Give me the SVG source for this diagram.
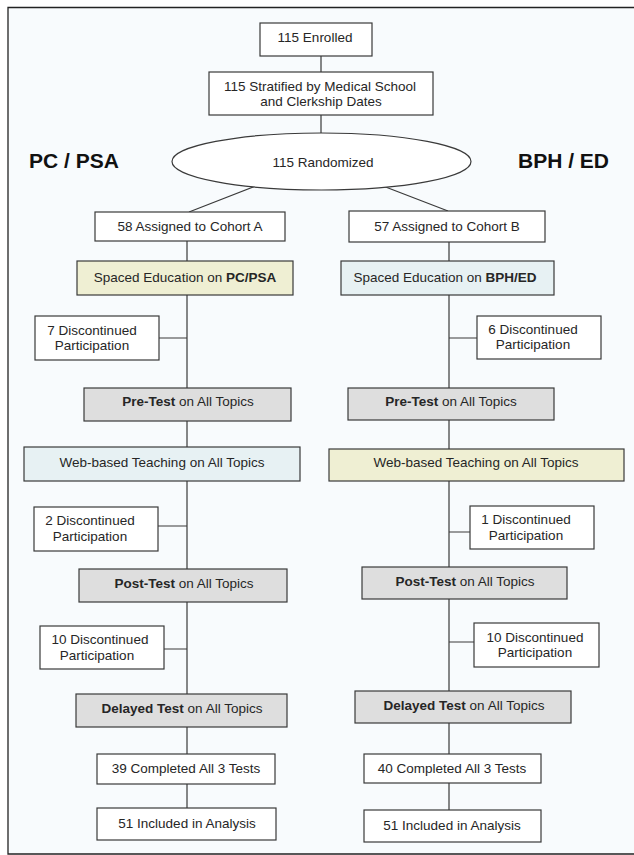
<svg xmlns="http://www.w3.org/2000/svg" width="634" height="855" viewBox="0 0 634 855">
<style>
.bx{stroke:#3a3a3a;stroke-width:1.2;fill:#ffffff}
.yl{fill:#efefd3}
.bl{fill:#e7f1f3}
.gr{fill:#dedede}
.ln{stroke:#3a3a3a;stroke-width:1.2;fill:none}
text{font-family:"Liberation Sans",Arial,sans-serif;font-size:13.5px;fill:#262626}
.m{text-anchor:middle}
.b{font-weight:bold}
.ttl{font-size:21px;font-weight:bold;fill:#111}
</style>
<rect x="0" y="0" width="634" height="855" fill="#ffffff"/>
<rect x="8" y="7.5" width="640" height="846.5" fill="#f8fbfd"/>
<path d="M634,7.5 H8 V854 H634" fill="none" stroke="#222" stroke-width="1.3"/>
<text class="ttl" x="29" y="168">PC / PSA</text>
<text class="ttl" x="518" y="168">BPH / ED</text>
<g id="connectors">
<path class="ln" d="M321,56 V72 M321,115 V133 M258,185 L189,212 M383,186 L448,211"/>
<path class="ln" d="M187,241 V808 M159,338 H187 M158,526 H187 M164,649 H187"/>
<path class="ln" d="M449,242 V810 M449,338 H477 M449,532 H470 M449,642 H474"/>
</g>
<g id="enrolled"><rect class="bx" x="260" y="23" width="112" height="33"/><text class="m" x="315" y="42">115 Enrolled</text></g>
<g id="stratified"><rect class="bx" x="209" y="72" width="224" height="43"/><text class="m" x="320" y="91">115 Stratified by Medical School</text><text class="m" x="321" y="106">and Clerkship Dates</text></g>
<g id="randomized"><ellipse class="bx" cx="321.5" cy="161.5" rx="149.5" ry="28.5"/><text class="m" x="323" y="167">115 Randomized</text></g>
<g id="cohortA"><rect class="bx" x="95" y="212" width="190" height="29"/><text class="m" x="190" y="231">58 Assigned to Cohort A</text></g>
<g id="cohortB"><rect class="bx" x="349" y="211" width="196" height="31"/><text class="m" x="447" y="231">57 Assigned to Cohort B</text></g>
<g id="spacedA"><rect class="bx yl" x="77" y="261" width="216" height="34"/><text class="m" x="185" y="282">Spaced Education on <tspan class="b">PC/PSA</tspan></text></g>
<g id="spacedB"><rect class="bx bl" x="341" y="261" width="213" height="34"/><text class="m" x="445" y="282">Spaced Education on <tspan class="b">BPH/ED</tspan></text></g>
<g id="disc7"><rect class="bx" x="35" y="316" width="124" height="44"/><text class="m" x="92" y="335">7 Discontinued</text><text class="m" x="92" y="350">Participation</text></g>
<g id="disc6"><rect class="bx" x="477" y="316" width="124" height="43"/><text class="m" x="533" y="334">6 Discontinued</text><text class="m" x="533" y="349">Participation</text></g>
<g id="pretestA"><rect class="bx gr" x="84" y="388" width="207" height="33"/><text class="m" x="188" y="406"><tspan class="b">Pre-Test</tspan> on All Topics</text></g>
<g id="pretestB"><rect class="bx gr" x="348" y="388" width="206" height="32"/><text class="m" x="451" y="406"><tspan class="b">Pre-Test</tspan> on All Topics</text></g>
<g id="webA"><rect class="bx bl" x="24" y="447" width="276" height="34"/><text class="m" x="162" y="467">Web-based Teaching on All Topics</text></g>
<g id="webB"><rect class="bx yl" x="329" y="449" width="295" height="32"/><text class="m" x="476" y="467">Web-based Teaching on All Topics</text></g>
<g id="disc2"><rect class="bx" x="34" y="507" width="124" height="44"/><text class="m" x="90" y="525">2 Discontinued</text><text class="m" x="90" y="541">Participation</text></g>
<g id="disc1"><rect class="bx" x="470" y="506" width="124" height="43"/><text class="m" x="526" y="524">1 Discontinued</text><text class="m" x="526" y="540">Participation</text></g>
<g id="posttestA"><rect class="bx gr" x="79" y="569" width="208" height="33"/><text class="m" x="184" y="588"><tspan class="b">Post-Test</tspan> on All Topics</text></g>
<g id="posttestB"><rect class="bx gr" x="362" y="567" width="205" height="32"/><text class="m" x="465" y="586"><tspan class="b">Post-Test</tspan> on All Topics</text></g>
<g id="disc10A"><rect class="bx" x="40" y="626" width="124" height="43"/><text class="m" x="100" y="644">10 Discontinued</text><text class="m" x="97" y="660">Participation</text></g>
<g id="disc10B"><rect class="bx" x="474" y="623" width="125" height="44"/><text class="m" x="535" y="642">10 Discontinued</text><text class="m" x="535" y="657">Participation</text></g>
<g id="delayedA"><rect class="bx gr" x="76" y="694" width="211" height="33"/><text class="m" x="182" y="713"><tspan class="b">Delayed Test</tspan> on All Topics</text></g>
<g id="delayedB"><rect class="bx gr" x="355" y="691" width="216" height="32"/><text class="m" x="464" y="710"><tspan class="b">Delayed Test</tspan> on All Topics</text></g>
<g id="completedA"><rect class="bx" x="97" y="754" width="178" height="30"/><text class="m" x="186" y="773">39 Completed All 3 Tests</text></g>
<g id="completedB"><rect class="bx" x="364" y="754" width="177" height="29"/><text class="m" x="452" y="773">40 Completed All 3 Tests</text></g>
<g id="includedA"><rect class="bx" x="97" y="808" width="179" height="32"/><text class="m" x="187" y="828">51 Included in Analysis</text></g>
<g id="includedB"><rect class="bx" x="364" y="810" width="177" height="32"/><text class="m" x="452" y="830">51 Included in Analysis</text></g>
</svg>
